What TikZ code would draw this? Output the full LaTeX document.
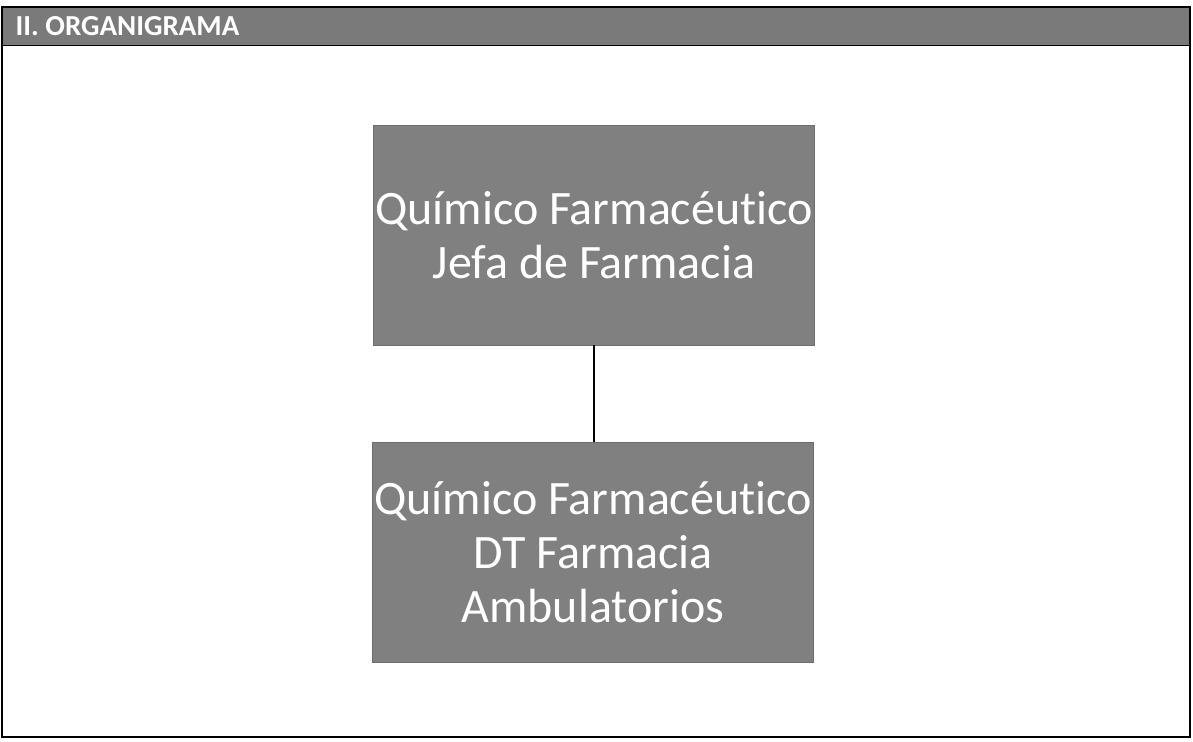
\documentclass[tikz,border=0pt]{standalone}
\usepackage{fontspec}
\setmainfont{Carlito}[Ligatures=NoCommon]
\usetikzlibrary{positioning}
\definecolor{cajagris}{RGB}{128,128,128}
\definecolor{bandagris}{RGB}{122,122,122}

\begin{document}
\begin{tikzpicture}[x=1pt,y=-1pt,semithick,
    cargo/.style={draw=cajagris!85!black,fill=cajagris,text=white,
      minimum width=441pt,minimum height=220pt,inner sep=0pt,
      align=center,font=\fontsize{48}{54}\selectfont},
    banda/.style={draw=black,fill=bandagris,line width=1.2pt,
      minimum width=1187pt,minimum height=38pt,inner sep=0pt}]
  \useasboundingbox (0,0) rectangle (1193,741);
  % marco de la seccion
  \draw [line width=1.5pt] (2,7) rectangle (1190,737);
  \node [banda,anchor=north west] (banda) at (2,7) {};
  \node [anchor=west,text=white,font=\fontsize{29}{34}\selectfont\bfseries]
    (titulo) at (12,26) {II. ORGANIGRAMA};

  % organigrama
  \node [cargo] (jefa) at (594,235) {Químico Farmacéutico\\Jefa de Farmacia};
  \node [cargo] (dt) at (593,552) {Químico Farmacéutico\\DT Farmacia\\Ambulatorios};
  \draw [line width=1.6pt] (jefa.south) -- (jefa.south |- dt.north);
\end{tikzpicture}
\end{document}
